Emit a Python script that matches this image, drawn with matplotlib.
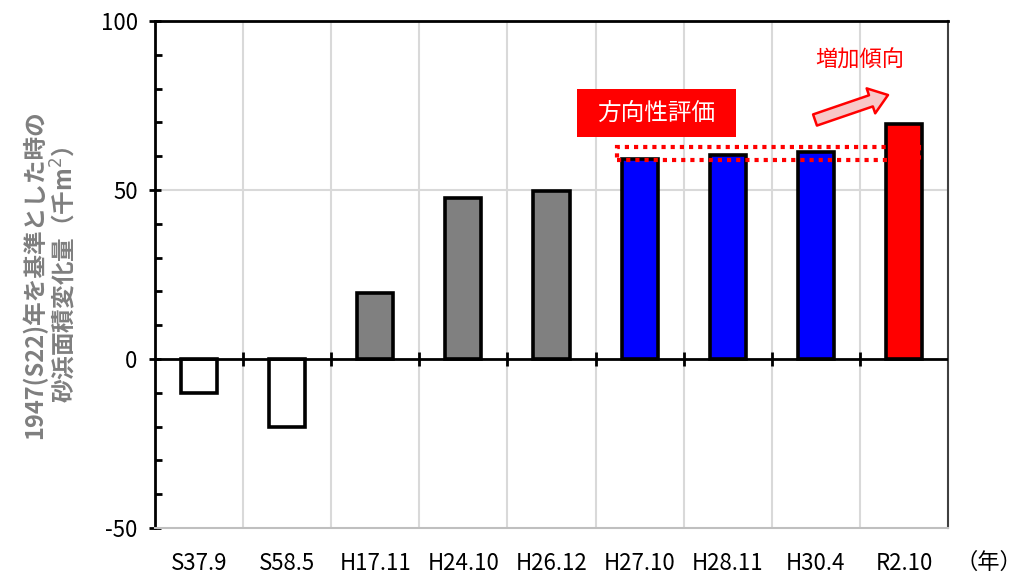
import matplotlib.pyplot as plt
from matplotlib.patches import Rectangle
import numpy as np

plt.rcParams['font.family'] = ['Noto Sans CJK JP', 'DejaVu Sans']

years = ['S37.9', 'S58.5', 'H17.11', 'H24.10', 'H26.12', 'H27.10', 'H28.11', 'H30.4', 'R2.10']
change = [-10, -20, 19.5, 47.5, 49.7, 59.2, 60.5, 61.3, 69.4]
colors = ['white', 'white', '#808080', '#808080', '#808080', '#0000ff', '#0000ff', '#0000ff', '#ff0000']

fig = plt.figure(figsize=(10.26, 5.76), dpi=100)
ax = fig.add_axes([155 / 1026, 1 - 528 / 576, (948 - 155) / 1026, (528 - 21) / 576])

x = np.arange(len(years))
ax.bar(x, change, width=0.41, color=colors, edgecolor='black', linewidth=2.6, zorder=3)

ax.set_xlim(-0.5, len(years) - 0.5)
ax.set_ylim(-50, 100)

# grid: vertical at category boundaries, horizontal at 50
bounds = np.arange(len(years) + 1) - 0.5
for b in bounds[1:-1]:
    ax.axvline(b, color='#d9d9d9', lw=1.5, zorder=1)
ax.axhline(50, color='#d9d9d9', lw=1.5, zorder=1)
ax.axhline(0, color='black', lw=2, zorder=4)
ax.plot(bounds[1:-1], np.zeros(len(bounds) - 2), ls='none', marker='|',
        ms=10, mew=2, color='black', zorder=4)

for s in ['left', 'top']:
    ax.spines[s].set_color('black')
    ax.spines[s].set_linewidth(2)
ax.spines['right'].set_color('#404040')
ax.spines['right'].set_linewidth(1.5)
ax.spines['bottom'].set_color('#bfbfbf')
ax.spines['bottom'].set_linewidth(1.5)

ax.set_yticks([-50, 0, 50, 100])
ax.set_yticklabels(['-50', '0', '50', '100'], fontsize=16)
ax.set_yticks(np.arange(-50, 101, 10), minor=True)
ax.tick_params(axis='y', which='major', direction='inout', length=9, width=2, pad=8)
ax.tick_params(axis='y', which='minor', direction='in', length=5, width=2)
ax.set_xticks(x)
ax.set_xticklabels(years, fontsize=16)
ax.tick_params(axis='x', length=0, pad=17)

fig.text(1022 / 1026, 1 - 562 / 576, '（年）', fontsize=16, ha='right', va='center')

ax.set_ylabel('1947(S22)年を基準とした時の\n砂浜面積変化量（千m$^2$）', fontsize=17,
              fontweight='bold', color='#7f7f7f', linespacing=1.1, labelpad=16)

# dotted highlight box around the blue bars
ax.add_patch(Rectangle((4.74, 58.9), 3.43, 3.7, fill=False, edgecolor='red',
                       ls=(0, (1, 1.2)), lw=3, zorder=5, clip_on=False))

# label box
fig.patches.append(Rectangle((577 / 1026, 1 - 137 / 576), 159 / 1026, 48 / 576,
                             transform=fig.transFigure, fc='#ff0000', ec='none'))
fig.text(656 / 1026, 1 - 113 / 576, '方向性評価', fontsize=17, color='white',
         ha='center', va='center')
fig.text(860 / 1026, 1 - 60 / 576, '増加傾向', fontsize=16, color='#ff0000',
         ha='center', va='center')
ax.annotate('', xy=(888 / 1026, 1 - 95 / 576), xytext=(815 / 1026, 1 - 120 / 576),
            xycoords='figure fraction', textcoords='figure fraction',
            arrowprops=dict(arrowstyle='simple,head_length=1.3,head_width=1.9,tail_width=0.85',
                            fc='#f8c8c8', ec='#ff0000', lw=1.8, shrinkA=0, shrinkB=0))

fig.savefig('out.png', dpi=100)
